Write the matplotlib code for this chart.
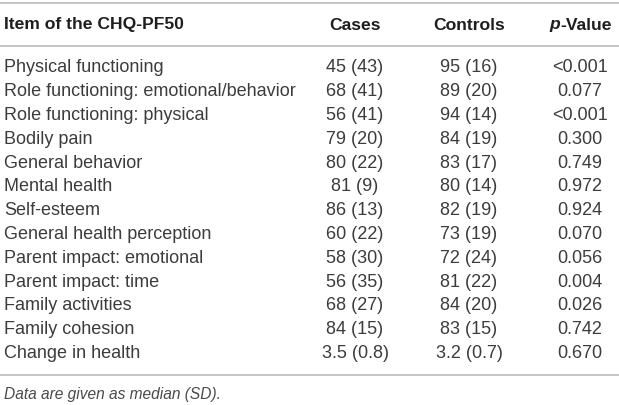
import matplotlib
matplotlib.use("Agg")
import matplotlib.pyplot as plt

# Table contents
items = ["Physical functioning", "Role functioning: emotional/behavior",
         "Role functioning: physical", "Bodily pain", "General behavior",
         "Mental health", "Self-esteem", "General health perception",
         "Parent impact: emotional", "Parent impact: time",
         "Family activities", "Family cohesion", "Change in health"]
cases = ["45 (43)", "68 (41)", "56 (41)", "79 (20)", "80 (22)", "81 (9)",
         "86 (13)", "60 (22)", "58 (30)", "56 (35)", "68 (27)", "84 (15)",
         "3.5 (0.8)"]
controls = ["95 (16)", "89 (20)", "94 (14)", "84 (19)", "83 (17)", "80 (14)",
            "82 (19)", "73 (19)", "72 (24)", "81 (22)", "84 (20)", "83 (15)",
            "3.2 (0.7)"]
pvalues = ["<0.001", "0.077", "<0.001", "0.300", "0.749", "0.972", "0.924",
           "0.070", "0.056", "0.004", "0.026", "0.742", "0.670"]
footnote = "Data are given as median (SD)."

plt.rcParams['font.family'] = ['Liberation Sans', 'DejaVu Sans']

W, H = 619, 406
fig = plt.figure(figsize=(W / 100, H / 100), dpi=100)
ax = fig.add_axes([0, 0, 1, 1])
ax.set_xlim(0, W)
ax.set_ylim(H, 0)
ax.axis("off")

txt = "#3c3c3c"
hdr = "#1e1e1e"
line_c = "#b4b4b4"
fs = 13.0
hfs = 12.6

# rules
for y in (3.5, 47, 376):
    ax.plot([0, W], [y, y], color=line_c, lw=1.1, solid_capstyle="butt")

# header
hy = 25
ax.text(4, hy, "Item of the CHQ-PF50", fontsize=hfs, fontweight="bold",
        color=hdr, va="center", ha="left")
ax.text(355, hy, "Cases", fontsize=hfs, fontweight="bold", color=hdr,
        va="center", ha="center")
ax.text(469, hy, "Controls", fontsize=hfs, fontweight="bold", color=hdr,
        va="center", ha="center")
val = ax.text(612, hy, "-Value", fontsize=hfs, fontweight="bold", color=hdr,
              va="center", ha="right")
fig.canvas.draw()
bb = val.get_window_extent().transformed(ax.transData.inverted())
ax.text(min(bb.x0, bb.x1), hy, "p", fontsize=hfs, fontweight="bold",
        fontstyle="italic", color=hdr, va="center", ha="right")

# rows
y0, dy = 68, 23.8
for i, (it, ca, co, p) in enumerate(zip(items, cases, controls, pvalues)):
    y = y0 + i * dy
    ax.text(4, y, it, fontsize=fs, color=txt, va="center", ha="left")
    ax.text(355, y, ca, fontsize=fs, color=txt, va="center", ha="center")
    ax.text(469, y, co, fontsize=fs, color=txt, va="center", ha="center")
    ax.text(580, y, p, fontsize=fs, color=txt, va="center", ha="center")

ax.text(4, 395, footnote, fontsize=fs * 0.86, fontstyle="italic", color="#4a4a4a",
        va="center", ha="left")

fig.savefig("out.png", dpi=100)
